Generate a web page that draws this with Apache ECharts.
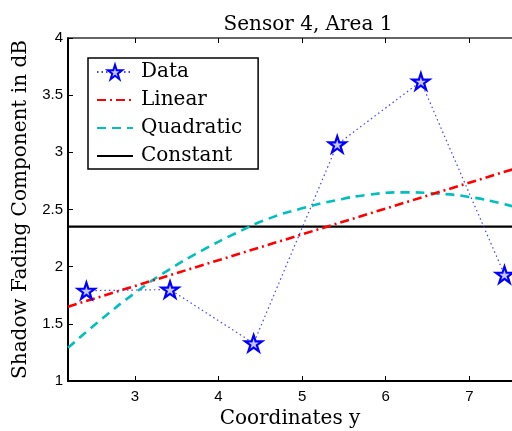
<!DOCTYPE html>
<html><head><meta charset="utf-8">
<script src="https://cdn.jsdelivr.net/npm/echarts@6/dist/echarts.min.js"></script>
<style>html,body{margin:0;padding:0;background:#fff}#c{width:512px;height:431px}</style>
</head><body><div id="c"></div>
<script>
const dataX = [2.42, 3.42, 4.42, 5.42, 6.42, 7.42];
const dataY = [1.79, 1.80, 1.33, 3.07, 3.62, 1.93];
const linearX = [2.2, 7.6];
const linearY = [1.65, 2.87];
const quadX = [2.2, 2.6, 3.0, 3.4, 3.8, 4.2, 4.6, 5.0, 5.4, 5.8, 6.2, 6.6, 7.0, 7.4, 7.6];
const quadY = [1.29, 1.54, 1.77, 1.97, 2.14, 2.29, 2.42, 2.51, 2.58, 2.63, 2.65, 2.64, 2.61, 2.55, 2.51];
const constX = [2.2, 7.6];
const constY = [2.35, 2.35];
const xTicks = [3, 4, 5, 6, 7];
const yTicks = [1, 1.5, 2, 2.5, 3, 3.5, 4];

const zip = (a, b) => a.map((v, i) => [v, b[i]]);
const star = 'path://M100,0 L122.5,69.1 L195.1,69.1 L136.3,111.8 L158.8,180.9 L100,138.2 L41.2,180.9 L63.7,111.8 L4.9,69.1 L77.5,69.1 Z';
const serif = '"DejaVu Serif", "Liberation Serif", serif';
const sans = '"Liberation Sans", Arial, sans-serif';
const hide = {opacity: 0};

const chart = echarts.init(document.getElementById('c'), null, {renderer: 'canvas'});
chart.setOption({
  animation: false,
  title: {text: 'Sensor 4, Area 1', left: 303, top: 10, textAlign: 'center',
    textStyle: {fontFamily: serif, fontSize: 20, fontWeight: 'normal', color: '#000'}},
  grid: {left: 68, top: 38, right: 0, bottom: 50, containLabel: false, outerBoundsMode: 'none'},
  legend: {
    orient: 'vertical', left: 88, top: 58,
    borderColor: '#000', borderWidth: 1.5, backgroundColor: '#fff',
    padding: [4, 16, 3, 8], itemGap: 8, itemWidth: 36, itemHeight: 18,
    textStyle: {fontFamily: serif, fontSize: 20, color: '#000', padding: [0, 0, 0, 3]},
    data: [{name: 'Data'}, {name: 'Linear', itemStyle: hide}, {name: 'Quadratic', itemStyle: hide}, {name: 'Constant', itemStyle: hide}]
  },
  xAxis: [{
    type: 'value', min: 2.2, max: 7.51,
    name: 'Coordinates y', nameLocation: 'middle', nameGap: 26,
    nameTextStyle: {fontFamily: serif, fontSize: 20, color: '#000'},
    axisLine: {show: true, onZero: false, lineStyle: {color: '#000', width: 2}},
    axisLabel: {fontFamily: sans, fontSize: 15, color: '#000', margin: 8,
      customValues: xTicks, formatter: v => String(v)},
    axisTick: {inside: true, length: 5, customValues: xTicks, lineStyle: {color: '#000'}},
    splitLine: {show: false}
  }, {
    type: 'value', position: 'top', min: 2.2, max: 7.51,
    axisLine: {show: true, onZero: false, lineStyle: {color: '#333', width: 1.5}},
    axisTick: {inside: true, length: 5, customValues: xTicks, lineStyle: {color: '#000'}},
    axisLabel: {show: false}, splitLine: {show: false}
  }],
  yAxis: {
    type: 'value', min: 1, max: 4, interval: 0.5,
    name: 'Shadow Fading Component in dB', nameLocation: 'middle', nameGap: 33,
    nameTextStyle: {fontFamily: serif, fontSize: 20, color: '#000'},
    axisLine: {show: true, onZero: false, lineStyle: {color: '#000', width: 2}},
    axisTick: {inside: true, length: 5, lineStyle: {color: '#000'}},
    axisLabel: {fontFamily: sans, fontSize: 15, color: '#000', margin: 5,
      customValues: yTicks, formatter: v => String(v)},
    splitLine: {show: false}
  },
  series: [
    {name: 'Constant', type: 'line', data: zip(constX, constY), symbol: 'none',
      lineStyle: {color: '#000', width: 2.2}, itemStyle: {color: '#000'}, z: 2},
    {name: 'Quadratic', type: 'line', data: zip(quadX, quadY), symbol: 'none', smooth: true,
      lineStyle: {color: '#00bfbf', width: 2.6, type: [9, 6]}, itemStyle: {color: '#00bfbf'}, z: 3},
    {name: 'Linear', type: 'line', data: zip(linearX, linearY), symbol: 'none',
      lineStyle: {color: '#ff0000', width: 2.6, type: [9, 4, 2, 4]}, itemStyle: {color: '#ff0000'}, z: 4},
    {name: 'Data', type: 'line', data: zip(dataX, dataY), symbol: star, symbolSize: 17, symbolKeepAspect: true,
      lineStyle: {color: '#4040ff', width: 1.2, type: [1.5, 3]},
      itemStyle: {color: '#c8c8ff', borderColor: '#0000ff', borderWidth: 2.2}, z: 5}
  ]
});
</script></body></html>
